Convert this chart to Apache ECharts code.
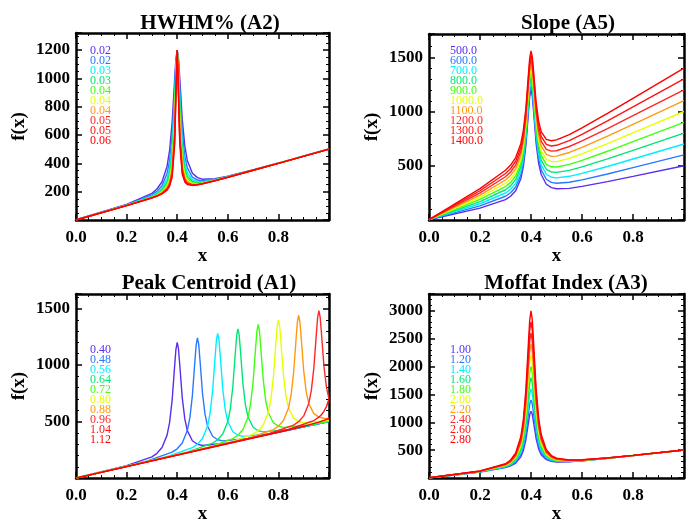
<!DOCTYPE html>
<html>
<head>
<meta charset="utf-8">
<script src="https://cdn.jsdelivr.net/npm/echarts@6/dist/echarts.min.js"></script>
<style>html,body{margin:0;padding:0;background:#fff;}#c{width:687px;height:525px;}</style>
</head>
<body>
<div id="c"></div>
<script>
// ---------------- DATA ----------------
const xGrid = [0,0.2,0.3,0.32,0.34,0.36,0.37,0.38,0.39,0.395,0.4,0.405,0.41,0.42,0.43,0.44,0.46,0.48,0.5,0.55,0.6,0.7,0.8,1.0];

const hwhmLabels = ['0.02','0.02','0.03','0.03','0.04','0.04','0.04','0.05','0.05','0.06'];
const hwhmY = [
  [2,110,188,219,270,380,493,690,995,1139,1200,1144,1005,710,523,420,330,299,288,292,310,354,402,501],
  [2,107,177,202,242,328,421,600,930,1115,1200,1120,940,620,451,368,302,282,277,287,307,353,402,501],
  [1,105,170,191,224,293,370,528,866,1088,1200,1093,876,548,400,333,284,271,270,284,305,352,401,501],
  [1,104,165,184,212,269,333,471,805,1060,1200,1065,815,491,363,309,272,264,265,282,304,352,401,500],
  [1,103,162,179,203,252,306,426,748,1029,1200,1034,758,446,336,292,263,259,262,281,303,351,401,500],
  [1,103,160,175,197,239,285,390,695,998,1200,1003,705,410,315,279,257,255,260,279,303,351,401,500],
  [1,102,158,173,192,229,269,361,648,965,1200,970,658,381,299,269,252,253,258,279,302,351,400,500],
  [0,102,157,171,189,222,257,338,605,933,1200,938,615,358,287,262,249,251,257,278,302,351,400,500],
  [0,101,156,169,186,216,247,319,567,901,1200,906,577,339,277,256,246,249,256,278,302,351,400,500],
  [0,101,155,168,184,211,239,303,533,869,1200,874,543,323,269,251,244,248,255,277,301,351,400,500]
];

const slopeLabels = ['500.0','600.0','700.0','800.0','900.0','1000.0','1100.0','1200.0','1300.0','1400.0'];
const slopeY = [
  [2,110,188,219,270,380,493,690,995,1139,1200,1144,1005,710,523,420,330,299,288,292,310,354,402,501],
  [3,130,219,251,304,416,530,728,1034,1178,1240,1184,1046,752,566,464,376,347,339,348,370,424,483,601],
  [3,150,249,283,338,452,567,766,1073,1218,1280,1225,1087,794,609,508,422,395,389,403,430,494,563,701],
  [3,170,279,315,372,488,604,804,1112,1257,1320,1265,1128,836,652,552,468,443,439,458,490,564,643,801],
  [3,190,309,347,406,524,641,842,1151,1297,1360,1306,1169,878,695,596,514,491,489,513,550,634,723,901],
  [3,210,339,379,440,560,678,880,1190,1336,1400,1346,1210,920,738,640,560,539,539,568,610,704,803,1001],
  [3,230,369,411,474,596,715,918,1229,1376,1440,1387,1251,962,781,684,606,587,589,623,670,774,883,1101],
  [3,250,399,443,508,632,752,956,1268,1415,1480,1427,1292,1004,824,728,652,635,639,678,730,844,963,1201],
  [3,270,429,475,542,668,789,994,1307,1455,1520,1468,1333,1046,867,772,698,683,689,733,790,914,1043,1301],
  [3,290,459,507,576,704,826,1032,1346,1494,1560,1508,1374,1088,910,816,744,731,739,788,850,984,1123,1401]
];

const centroidLabels = ['0.40','0.48','0.56','0.64','0.72','0.80','0.88','0.96','1.04','1.12'];
const centroidX = [
  [0,0.2,0.3,0.32,0.34,0.36,0.37,0.38,0.39,0.395,0.4,0.405,0.41,0.42,0.43,0.44,0.46,0.48,0.5,0.6,1.0],
  [0,0.28,0.38,0.40,0.42,0.44,0.45,0.46,0.47,0.475,0.48,0.485,0.49,0.50,0.51,0.52,0.54,0.56,0.58,0.68,1.0],
  [0,0.36,0.46,0.48,0.50,0.52,0.53,0.54,0.55,0.555,0.56,0.565,0.57,0.58,0.59,0.60,0.62,0.64,0.66,0.76,1.0],
  [0,0.44,0.54,0.56,0.58,0.60,0.61,0.62,0.63,0.635,0.64,0.645,0.65,0.66,0.67,0.68,0.70,0.72,0.74,0.84,1.0],
  [0,0.52,0.62,0.64,0.66,0.68,0.69,0.70,0.71,0.715,0.72,0.725,0.73,0.74,0.75,0.76,0.78,0.80,0.82,0.92,1.0],
  [0,0.60,0.70,0.72,0.74,0.76,0.77,0.78,0.79,0.795,0.80,0.805,0.81,0.82,0.83,0.84,0.86,0.88,0.90,1.0],
  [0,0.68,0.78,0.80,0.82,0.84,0.85,0.86,0.87,0.875,0.88,0.885,0.89,0.90,0.91,0.92,0.94,0.96,0.98,1.0],
  [0,0.76,0.86,0.88,0.90,0.92,0.93,0.94,0.95,0.955,0.96,0.965,0.97,0.98,0.99,1.0],
  [0,0.84,0.94,0.96,0.97,0.98,0.99,1.0],
  [0,0.8,0.92,0.96,0.98,1.0]
];
const centroidY = [
  [2,110,188,219,270,380,493,690,995,1139,1200,1144,1005,710,523,420,330,299,288,310,501],
  [2,150,229,259,310,420,533,730,1035,1179,1240,1184,1045,750,563,460,370,339,329,350,501],
  [1,190,269,299,350,460,573,770,1075,1219,1280,1224,1085,790,603,500,410,379,369,390,502],
  [1,230,309,339,390,500,613,810,1115,1259,1320,1264,1125,830,643,540,450,419,409,430,503],
  [1,270,349,379,430,540,653,850,1155,1299,1360,1304,1165,870,683,580,490,459,449,470,505],
  [1,310,389,419,470,580,693,890,1195,1339,1400,1344,1205,910,723,620,530,499,489,510],
  [0,350,429,459,510,620,733,930,1235,1379,1440,1384,1245,950,763,660,570,539,529,527],
  [0,390,469,499,550,660,773,970,1275,1419,1480,1424,1285,990,803,700],
  [0,430,509,539,560,590,633,700],
  [0,404,470,495,510,527]
];

const indexLabels = ['1.00','1.20','1.40','1.60','1.80','2.00','2.20','2.40','2.60','2.80'];
const indexY = [
  [2,110,188,219,270,380,493,690,995,1139,1200,1144,1005,710,523,420,330,299,288,292,310,354,402,501],
  [3,112,196,231,290,420,554,790,1155,1327,1400,1332,1165,810,584,460,350,311,296,296,312,355,403,501],
  [4,114,204,242,310,460,616,890,1315,1515,1600,1520,1325,910,646,500,370,322,304,300,314,356,404,502],
  [4,116,212,254,330,500,677,990,1475,1703,1800,1708,1485,1010,707,540,390,334,312,303,316,357,404,502],
  [5,118,219,266,350,540,739,1090,1635,1892,2000,1897,1645,1110,769,580,410,346,319,307,318,358,405,502],
  [5,120,227,278,370,580,800,1190,1795,2080,2200,2085,1805,1210,830,620,430,358,327,310,320,359,405,502],
  [6,122,235,289,390,620,862,1290,1955,2268,2400,2273,1965,1310,892,660,450,369,335,314,322,360,406,502],
  [6,124,242,301,410,660,924,1390,2115,2456,2600,2461,2125,1410,954,700,470,381,342,317,324,361,406,503],
  [7,126,250,313,430,700,985,1490,2275,2645,2800,2650,2285,1510,1015,740,490,393,350,321,326,361,407,503],
  [7,128,258,325,450,740,1047,1590,2435,2833,3000,2838,2445,1610,1077,780,510,405,358,324,328,362,407,503]
];

const panelTitles = ['HWHM% (A2)','Slope (A5)','Peak Centroid (A1)','Moffat Index (A3)'];
const yMaxes = [1320, 1716, 1628, 3300];
const yIntervals = [200, 500, 500, 500];

// ---------------- STYLE / LAYOUT ----------------
const colors = ['#5a2df0','#2a78ff','#00eeff','#00e676','#40ff10','#e6ff00','#ff9a10','#ff2828','#ff1414','#ff0000'];
const grids = [
  {left:76, top:33, width:253, height:187},
  {left:429, top:34, width:258, height:186},
  {left:76, top:294, width:253, height:186},
  {left:429, top:294, width:258, height:186}
];
const titlePos = [[205,8],[563,8],[204,268],[561,268]];
const legendPos = [[90,51],[450,51],[90,350],[450,350]];
const FONT = '"Liberation Serif", "Times New Roman", serif';

function pairs(xs, ys){ return xs.map((x,i)=>[x, ys[i]]); }

const xAxes = [], yAxes = [], series = [], titles = [], graphics = [];
const axisLineStyle = {color:'#000', width:2.5};
grids.forEach((g, p) => {
  const yInt = yIntervals[p];
  xAxes.push({
    type:'value', gridIndex:p, position:'bottom', min:0, max:1, interval:0.2,
    axisLine:{show:true, onZero:false, lineStyle:axisLineStyle},
    axisTick:{show:true, inside:true, length:6, lineStyle:{color:'#000', width:1.5}},
    minorTick:{show:true, splitNumber:4, length:3, lineStyle:{color:'#000', width:1}},
    splitLine:{show:false},
    axisLabel:{margin:9, color:'#000', fontFamily:FONT, fontWeight:'bold', fontSize:17,
      formatter:v => (v > 0.99 ? '' : v.toFixed(1))},
    name:'x', nameLocation:'middle', nameGap:22,
    nameTextStyle:{color:'#000', fontFamily:FONT, fontWeight:'bold', fontSize:19}
  });
  xAxes.push({
    type:'value', gridIndex:p, position:'top', min:0, max:1, interval:0.2,
    axisLine:{show:true, onZero:false, lineStyle:axisLineStyle},
    axisTick:{show:true, inside:true, length:6, lineStyle:{color:'#000', width:1.5}},
    minorTick:{show:true, splitNumber:4, length:3, lineStyle:{color:'#000', width:1}},
    splitLine:{show:false}, axisLabel:{show:false}
  });
  const ySplit = yInt === 200 ? 4 : 5;
  yAxes.push({
    type:'value', gridIndex:p, position:'left', min:0, max:yMaxes[p], interval:yInt,
    axisLine:{show:true, onZero:false, lineStyle:axisLineStyle},
    axisTick:{show:true, inside:true, length:6, lineStyle:{color:'#000', width:1.5}},
    minorTick:{show:true, splitNumber:ySplit, length:3, lineStyle:{color:'#000', width:1}},
    splitLine:{show:false},
    axisLabel:{margin:6, color:'#000', fontFamily:FONT, fontWeight:'bold', fontSize:17,
      formatter:v => ((v > 0 && v % yInt === 0) ? String(v) : '')},
    name:'f(x)', nameLocation:'middle', nameRotate:90, nameGap:47,
    nameTextStyle:{color:'#000', fontFamily:FONT, fontWeight:'bold', fontSize:19}
  });
  yAxes.push({
    type:'value', gridIndex:p, position:'right', min:0, max:yMaxes[p], interval:yInt,
    axisLine:{show:true, onZero:false, lineStyle:axisLineStyle},
    axisTick:{show:true, inside:true, length:6, lineStyle:{color:'#000', width:1.5}},
    minorTick:{show:true, splitNumber:ySplit, length:3, lineStyle:{color:'#000', width:1}},
    splitLine:{show:false}, axisLabel:{show:false}
  });
  titles.push({
    text: panelTitles[p], left: titlePos[p][0], top: titlePos[p][1], textAlign:'center',
    textStyle:{color:'#000', fontFamily:FONT, fontWeight:'bold', fontSize:21}
  });
});

const panelLabels = [hwhmLabels, slopeLabels, centroidLabels, indexLabels];
for (let i = 0; i < 10; i++) {
  const ds = [
    pairs(xGrid, hwhmY[i]),
    pairs(xGrid, slopeY[i]),
    pairs(centroidX[i], centroidY[i]),
    pairs(xGrid, indexY[i])
  ];
  ds.forEach((d, p) => {
    series.push({
      type:'line', xAxisIndex:2*p, yAxisIndex:2*p, data:d,
      showSymbol:false, symbol:'none', silent:true, clip:true,
      lineStyle:{width:1.4, color:colors[i]}, itemStyle:{color:colors[i]},
      emphasis:{disabled:true}, animation:false
    });
  });
}
panelLabels.forEach((labels, p) => {
  labels.forEach((t, i) => {
    graphics.push({
      type:'text', x:legendPos[p][0], y:legendPos[p][1] + 10*i,
      style:{text:t, fill:colors[i], font:'12px ' + FONT, textVerticalAlign:'middle', verticalAlign:'middle'}
    });
  });
});

const chart = echarts.init(document.getElementById('c'), null, {renderer:'canvas'});
chart.setOption({
  animation:false,
  backgroundColor:'#fff',
  title: titles,
  grid: grids,
  xAxis: xAxes,
  yAxis: yAxes,
  series: series,
  graphic: graphics
});
</script>
</body>
</html>
